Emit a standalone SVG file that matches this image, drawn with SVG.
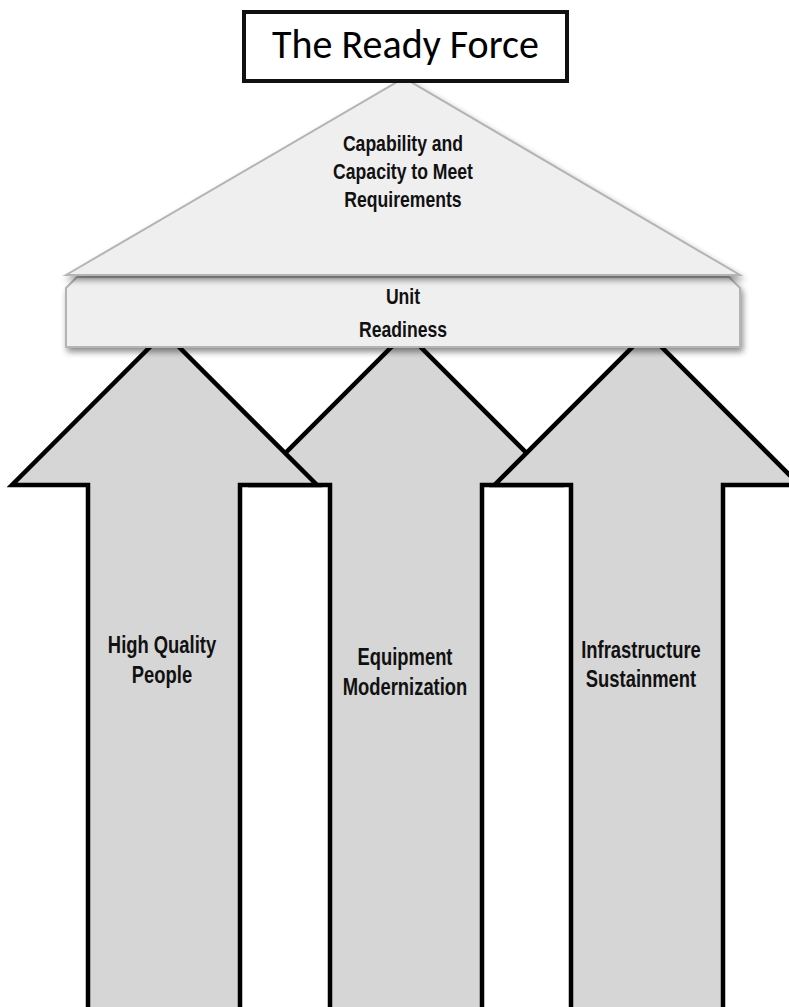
<svg xmlns="http://www.w3.org/2000/svg" width="789" height="1007" viewBox="0 0 789 1007">
<defs>
<style>
.arrow{fill:#d6d6d6;stroke:#000;stroke-width:4.5;stroke-linejoin:miter}
.light{fill:#efefef;stroke:#b4b4b4;stroke-width:2}
.lbl{font-family:"Liberation Sans",Arial,sans-serif;font-weight:bold;fill:#111;text-anchor:middle}
.s22{font-size:22px}
.s23{font-size:23px}
.title{font-family:Carlito,Lato,"Open Sans",sans-serif;font-size:40px;fill:#000;text-anchor:middle}
</style>
<filter id="sh" x="-5%" y="-20%" width="110%" height="150%">
<feGaussianBlur in="SourceAlpha" stdDeviation="3"/>
<feOffset dx="2" dy="4" result="b"/>
<feComponentTransfer><feFuncA type="linear" slope="0.45"/></feComponentTransfer>
<feMerge><feMergeNode/><feMergeNode in="SourceGraphic"/></feMerge>
</filter>
</defs>
<rect width="789" height="1007" fill="#fff"/>
<g id="connectors">
<g id="arrow-equipment">
<polygon class="arrow" points="330,1012 330,485 253.5,485 406,332.5 558.5,485 482,485 482,1012"/>
<text class="lbl s23" transform="translate(405,665) scale(0.8,1)">Equipment</text>
<text class="lbl s23" transform="translate(405,695) scale(0.8,1)">Modernization</text>
</g>
<g id="arrow-people">
<polygon class="arrow" points="88,1012 88,485 12,485 164.5,332.5 317,485 240,485 240,1012"/>
<text class="lbl s23" transform="translate(162,653) scale(0.8,1)">High Quality</text>
<text class="lbl s23" transform="translate(162,683) scale(0.8,1)">People</text>
</g>
<g id="arrow-infrastructure">
<polygon class="arrow" points="571,1012 571,485 494.5,485 647,332.5 799.5,485 723,485 723,1012"/>
<text class="lbl s23" transform="translate(641,658) scale(0.8,1)">Infrastructure</text>
<text class="lbl s23" transform="translate(641,687) scale(0.8,1)">Sustainment</text>
</g>
</g>
<g id="unit-readiness">
<polygon class="light" filter="url(#sh)" points="66,288 77,277 729,277 740,288 740,347 66,347"/>
<text class="lbl s22" transform="translate(403,304) scale(0.8,1)">Unit</text>
<text class="lbl s22" transform="translate(403,337) scale(0.8,1)">Readiness</text>
</g>
<g id="capability">
<polygon class="light" filter="url(#sh)" points="66,275 404,78 740,275"/>
<text class="lbl s22" transform="translate(403,151) scale(0.8,1)">Capability and</text>
<text class="lbl s22" transform="translate(403,179) scale(0.8,1)">Capacity to Meet</text>
<text class="lbl s22" transform="translate(403,207) scale(0.8,1)">Requirements</text>
</g>
<g id="ready-force">
<rect x="244" y="12" width="323" height="69" fill="#fff" stroke="#111" stroke-width="4"/>
<text class="title" x="405.5" y="58">The Ready Force</text>
</g>
</svg>
